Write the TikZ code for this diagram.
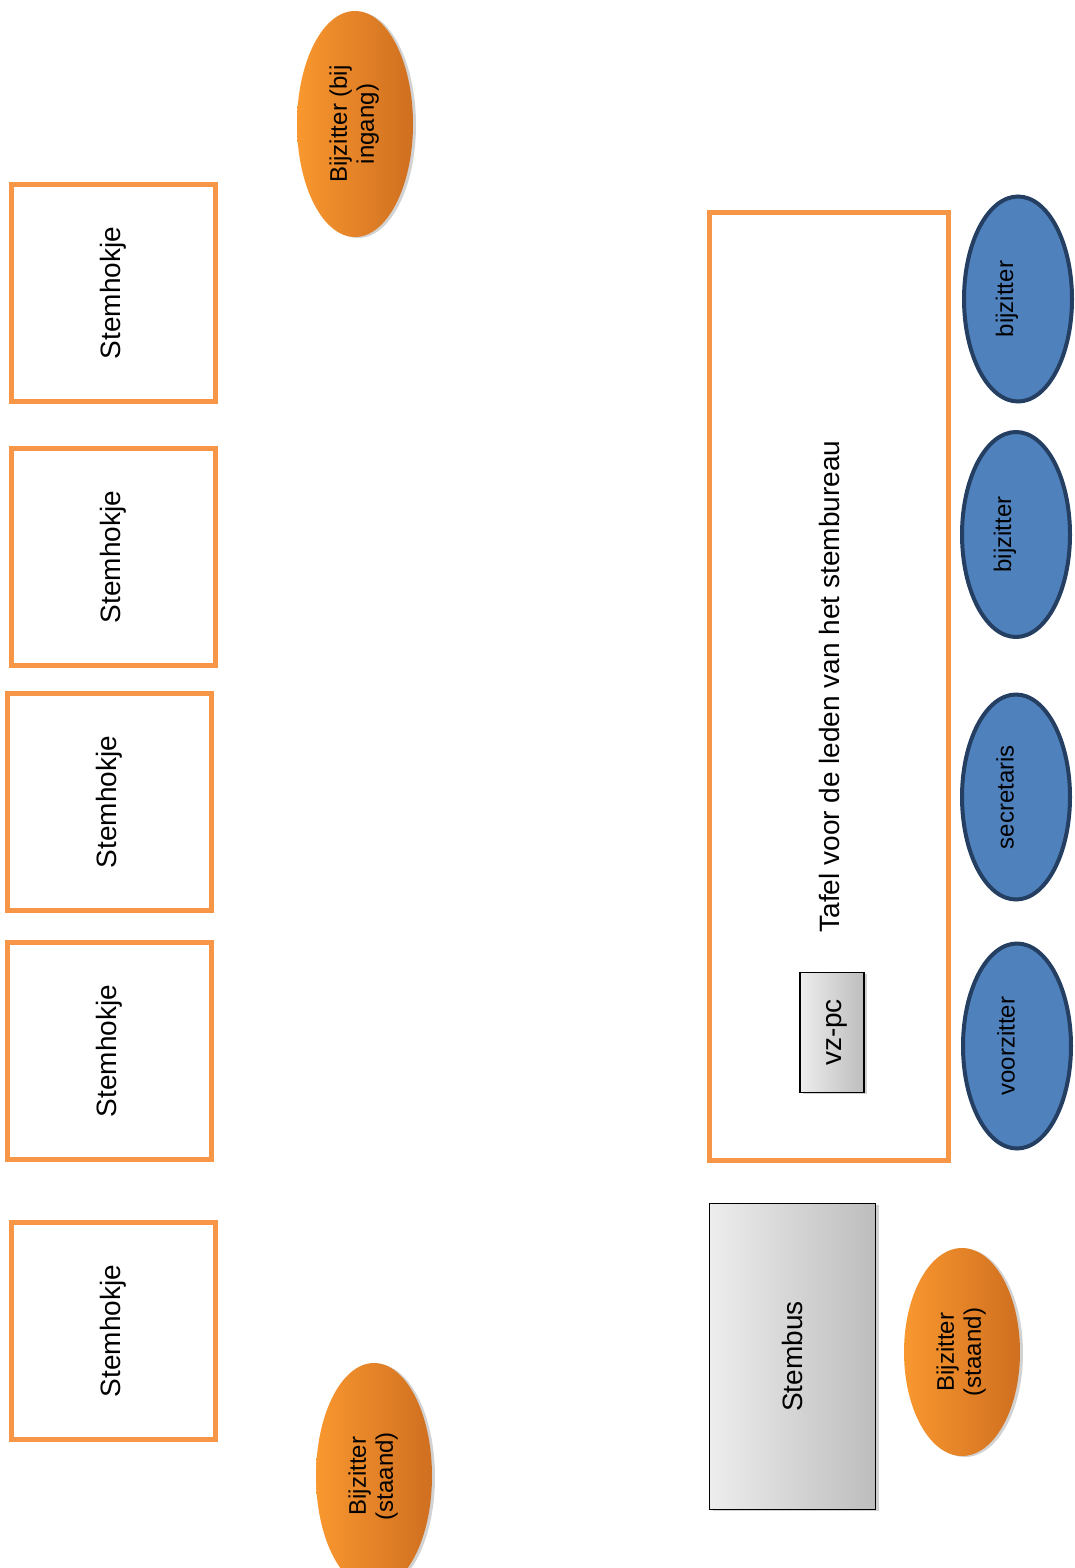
\documentclass[tikz,border=0pt]{standalone}
\usepackage{fontspec}
\setmainfont{Liberation Sans}
\usetikzlibrary{shapes.geometric,shadows}
\definecolor{obord}{HTML}{F79646}
\definecolor{olight}{HTML}{F9972F}
\definecolor{odark}{HTML}{CF6F20}
\definecolor{bfill}{HTML}{4F81BD}
\definecolor{bbord}{HTML}{243F62}
\definecolor{glight}{HTML}{EDEDED}
\definecolor{gdark}{HTML}{BDBDBD}
\newcommand{\rtxt}[2][0pt]{\rotatebox{90}{\raisebox{#1}[\height][\depth]{#2}}}
\begin{document}
\begin{tikzpicture}[x=1pt,y=-1pt,
  hokje/.style={draw=obord,line width=4.5pt,minimum width=204pt,minimum height=217pt,inner sep=0pt,font=\fontsize{28}{32}\selectfont},
  tafel/.style={draw=obord,line width=4.5pt,minimum width=239pt,minimum height=948pt,inner sep=0pt,font=\fontsize{28}{32}\selectfont},
  grijs/.style={draw=black,line width=1.5pt,left color=glight,right color=gdark,inner sep=0pt,
    drop shadow={shadow xshift=3pt,shadow yshift=-1pt,fill=gray!70},font=\fontsize{28}{32}\selectfont},
  oranje/.style={ellipse,left color=olight,right color=odark,minimum width=116pt,inner sep=0pt,
    drop shadow={shadow xshift=3pt,shadow yshift=-1pt,fill=gray!70},font=\fontsize{24}{27}\selectfont},
  blauw/.style={ellipse,draw=bbord,line width=4pt,fill=bfill,minimum width=108pt,minimum height=205pt,inner sep=0pt,font=\fontsize{24}{27}\selectfont}]
\useasboundingbox (0,0) rectangle (1074,1568);
% Stemhokjes
\node[hokje] (h1) at (113.5,293) {\rtxt{Stemhokje}};
\node[hokje] (h2) at (113.5,557) {\rtxt{Stemhokje}};
\node[hokje] (h3) at (109.5,802) {\rtxt{Stemhokje}};
\node[hokje] (h4) at (109.5,1051) {\rtxt{Stemhokje}};
\node[hokje] (h5) at (113.5,1331) {\rtxt{Stemhokje}};
% Tafel
\node[tafel] (tafel) at (829,686.5) {\rtxt{Tafel voor de leden van het stembureau}};
\node[grijs,minimum width=64pt,minimum height=120pt] (vzpc) at (832,1032.5) {\rtxt[-5pt]{vz-pc}};
\node[grijs,minimum width=166pt,minimum height=306pt] (stembus) at (792.5,1356.5) {\rtxt{Stembus}};
% Oranje bijzitters
\node[oranje,minimum height=226pt] (ingang) at (355,124) {\rtxt{\begin{tabular}{@{}c@{}}Bijzitter (bij\\ingang)\end{tabular}}};
\node[oranje,minimum height=226pt] (staand1) at (374,1476) {\rtxt{\begin{tabular}{@{}c@{}}Bijzitter\\(staand)\end{tabular}}};
\node[oranje,minimum height=208pt] (staand2) at (962,1352) {\rtxt{\begin{tabular}{@{}c@{}}Bijzitter\\(staand)\end{tabular}}};
% Blauwe leden
\node[blauw] (b1) at (1018,299) {\rtxt[11pt]{bijzitter}};
\node[blauw] (b2) at (1016,534.5) {\rtxt[11pt]{bijzitter}};
\node[blauw] (sec) at (1016,797) {\rtxt[11pt]{secretaris}};
\node[blauw] (vz) at (1017,1046) {\rtxt[11pt]{voorzitter}};
\end{tikzpicture}
\end{document}
